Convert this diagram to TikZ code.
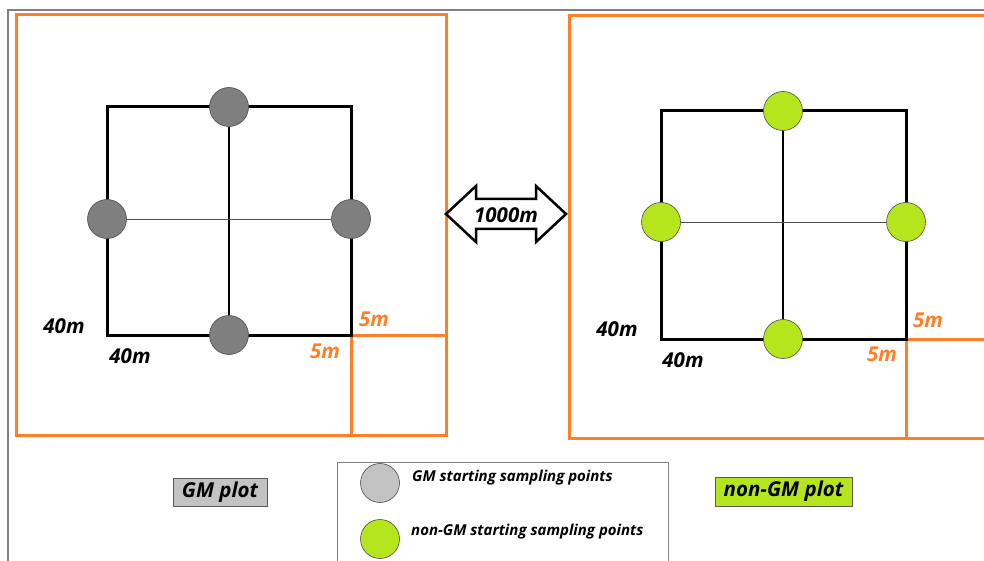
\documentclass[tikz,border=0pt]{standalone}
\usepackage{fontspec}
\setmainfont{Open Sans}
\definecolor{orng}{HTML}{FF7F27}
\definecolor{lime}{HTML}{B5E61D}
\definecolor{dgray}{HTML}{7F7F7F}
\definecolor{lgray}{HTML}{C3C3C3}
\begin{document}
\begin{tikzpicture}[x=1pt,y=-1pt,
  lab/.style={font=\fontsize{20.5}{23}\selectfont\bfseries\itshape, inner sep=0pt},
  orl/.style={lab, text=orng},
  frame/.style={draw=orng, line width=3pt},
  sub/.style={draw=orng, line width=3pt},
  sq/.style={draw=black, line width=3pt},
  pt/.style={circle, minimum size=39pt, inner sep=0pt, line width=0.6pt},
  gmpt/.style={pt, draw=black!70, fill=dgray},
  ngpt/.style={pt, draw=black!70, fill=lime},
  vline/.style={draw=black, line width=1.4pt},
  hline/.style={draw=black!70, line width=0.7pt},
  legtxt/.style={font=\fontsize{15}{17}\selectfont\bfseries\itshape, inner sep=0pt, anchor=west},
  plotlab/.style={font=\fontsize{20.5}{23}\selectfont\bfseries\itshape, draw=black!65, line width=0.8pt, inner sep=0pt}
]
\useasboundingbox (0,0) rectangle (984,561);
% outer thin frame
\draw[gray, line width=1.2pt] (8,561) -- (8,10) -- (984,10);

% ---------- left plot ----------
\coordinate (LF-nw) at (16,15);
\coordinate (LF-se) at (446,435);
\draw[frame] (LF-nw) rectangle (LF-se);
\coordinate (L-nw) at (107,107);
\coordinate (L-se) at (351,335);
\coordinate (L-sub-b) at (351,435);
\coordinate (L-sub-r) at (446,335);
\draw[sub] (L-se) -- (L-sub-b);
\draw[sub] (L-se) -- (L-sub-r);
\draw[sq] (L-nw) rectangle (L-se);
\node[gmpt] (L-t) at (229,107) {};
\node[gmpt] (L-l) at (107,219) {};
\node[gmpt] (L-r) at (351,219) {};
\node[gmpt] (L-b) at (229,335) {};
\draw[vline] (L-t) -- (L-b);
\draw[hline] (L-l) -- (L-r);
\node[lab] (L-40v) at (64,326) {40m};
\node[lab] (L-40h) at (130,356) {40m};
\node[orl] (L-5v) at (374,319) {5m};
\node[orl] (L-5h) at (325,351) {5m};

% ---------- right plot ----------
\coordinate (RF-nw) at (569,16);
\coordinate (RF-se) at (995,438);
\draw[frame] (RF-nw) rectangle (RF-se);
\coordinate (R-nw) at (661,111);
\coordinate (R-se) at (906,339);
\coordinate (R-sub-b) at (906,438);
\coordinate (R-sub-r) at (995,339);
\draw[sub] (R-se) -- (R-sub-b);
\draw[sub] (R-se) -- (R-sub-r);
\draw[sq] (R-nw) rectangle (R-se);
\node[ngpt] (R-t) at (783,111) {};
\node[ngpt] (R-l) at (661,222) {};
\node[ngpt] (R-r) at (906,222) {};
\node[ngpt] (R-b) at (783,339) {};
\draw[vline] (R-t) -- (R-b);
\draw[hline] (R-l) -- (R-r);
\node[lab] (R-40v) at (617,329) {40m};
\node[lab] (R-40h) at (683,360) {40m};
\node[orl] (R-5v) at (928,320) {5m};
\node[orl] (R-5h) at (882,354) {5m};

% ---------- double arrow ----------
\draw[line width=2.5pt, fill=white, line join=miter]
  (446,214) -- (476,186) -- (476,199) -- (536,199) -- (536,186) -- (566,214)
  -- (536,242) -- (536,229) -- (476,229) -- (476,242) -- cycle;
\node[lab] (dist) at (506,215) {1000m};

% ---------- plot labels ----------
\node[plotlab, fill=lgray, minimum width=94pt, minimum height=28pt] (gmplot) at (220,492) {GM plot};
\node[plotlab, fill=lime, minimum width=137pt, minimum height=29pt] (ngplot) at (783.5,491.5) {non-GM plot};

% ---------- legend ----------
\draw[black!50, line width=1pt] (337,561) -- (337,462) -- (668,462) -- (668,561);
\node[pt, draw=black!70, fill=lgray] (leg-gm) at (380,483) {};
\node[pt, draw=black!70, fill=lime] (leg-ng) at (380,539) {};
\node[legtxt] (leg-gm-t) at (412,478) {GM starting sampling points};
\node[legtxt] (leg-ng-t) at (411,532) {non-GM starting sampling points};
\end{tikzpicture}
\end{document}
